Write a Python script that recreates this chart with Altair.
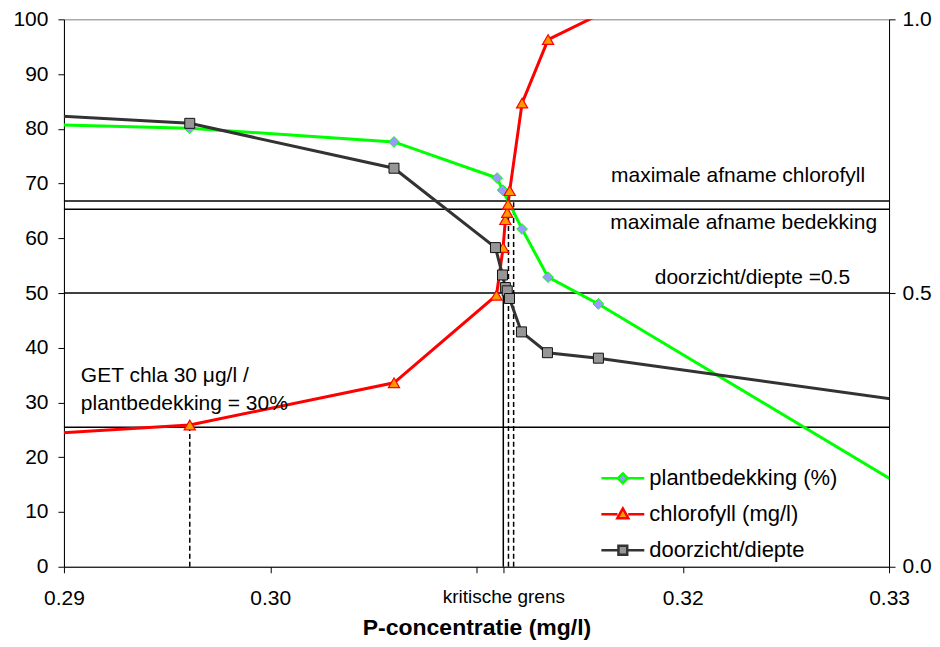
import altair as alt
import pandas as pd

FONT = "Liberation Sans"

# ---------------- data ----------------
series_names = ["plantbedekking (%)", "chlorofyll (mg/l)", "doorzicht/diepte"]
line_colors = ["#00FF00", "#FF0000", "#333333"]
marker_fills = ["#9999FF", "#FF9900", "#969696"]

# plantbedekking (%), left axis
p_plant = [0.2800, 0.2961, 0.3060, 0.31100, 0.31127, 0.31221, 0.31347, 0.31591, 0.3350]
plant = [81.7, 80.1, 77.6, 71.0, 68.8, 61.7, 52.9, 48.0, 4.9]

# chlorofyll (mg/l), left axis
p_chl = [0.2800, 0.2961, 0.3060, 0.31097, 0.31129, 0.31140, 0.31149, 0.31153, 0.31161, 0.31221, 0.31347, 0.31591]
chl = [22.2, 25.9, 33.6, 49.6, 58.3, 63.4, 64.7, 66.2, 68.7, 84.7, 96.3, 100.8]

# doorzicht/diepte, right axis
p_door = [0.2800, 0.2961, 0.3060, 0.31092, 0.31126, 0.31140, 0.31149, 0.31160, 0.31218, 0.31344, 0.31591, 0.3350]
door = [0.844, 0.810, 0.728, 0.583, 0.533, 0.510, 0.504, 0.490, 0.429, 0.391, 0.381, 0.281]

# reference lines
hline_values = [25.5, 50.0, 65.3, 66.8]
krit_x = [0.3113]
krit_top = [50.0]
vdash_x = [0.2961, 0.31155, 0.31180]
vdash_top = [25.5, 65.3, 66.8]

# axis ticks
x_ticks = [0.29, 0.30, 0.31, 0.3113, 0.32, 0.33]
y_ticks = [0, 10, 20, 30, 40, 50, 60, 70, 80, 90, 100]
y2_ticks = [0.0, 0.5, 1.0]

# annotations
notes = ["maximale afname chlorofyll", "maximale afname bedekking", "doorzicht/diepte =0.5"]
note_x = [0.32884, 0.32942, 0.32811]
note_y = [71.4, 62.8, 52.8]
get_text = ["GET chla 30 \u03bcg/l /", "plantbedekking = 30%"]
get_x = [0.29082, 0.29082]
get_y = [34.9, 29.7]

# ---------------- frames ----------------
df_plant = pd.DataFrame({"x": p_plant, "v": plant})
df_chl = pd.DataFrame({"x": p_chl, "v": chl})
df_door = pd.DataFrame({"x": p_door, "d": door})
df_h = pd.DataFrame({"v": hline_values})
df_krit = pd.DataFrame({"x": krit_x, "v0": [0.0] * len(krit_x), "v": krit_top})
df_dash = pd.DataFrame({"x": vdash_x, "v0": [0.0] * len(vdash_x), "v": vdash_top})
df_notes = pd.DataFrame({"x": note_x, "v": note_y, "t": notes})
df_get = pd.DataFrame({"x": get_x, "v": get_y, "t": get_text})
df_leg = pd.DataFrame({"series": series_names})

# ---------------- scales / axes ----------------
XS = alt.Scale(domain=[0.29, 0.33], nice=False, zero=False)
YL = alt.Scale(domain=[0, 100], nice=False, zero=True)
YR = alt.Scale(domain=[0, 1], nice=False, zero=True)

x_axis = alt.Axis(
    values=x_ticks,
    labelExpr="datum.value > 0.3099 && datum.value < 0.3101 ? '' : "
              "(datum.value > 0.3112 && datum.value < 0.3114 ? 'kritische grens' : format(datum.value, '.2f'))",
    labelFontSize={"condition": {"test": "datum.value > 0.3112 && datum.value < 0.3114", "value": 19}, "value": 21},
    labelOverlap=False,
    labelFlush=False,
    tickSize=6,
    labelPadding=15,
    title="P-concentratie (mg/l)",
    titleFontSize=23,
    titleFontWeight="bold",
    titlePadding=8,
    grid=False,
)
yl_axis = alt.Axis(values=y_ticks, tickSize=6, labelPadding=10, labelFontSize=21, title=None, grid=False)
yr_axis = alt.Axis(values=y2_ticks, format=".1f", orient="right", tickSize=6, labelPadding=7,
                   labelFontSize=21, title=None, grid=False)


def X(f="x"):
    return alt.X(f"{f}:Q", scale=XS, axis=x_axis)


def YLenc(f="v"):
    return alt.Y(f"{f}:Q", scale=YL, axis=yl_axis)


in_view = "datum.x >= 0.29 && datum.x <= 0.33 && datum.v <= 100"

hrules = alt.Chart(df_h).mark_rule(color="black", strokeWidth=1.5).encode(y=YLenc())
krit = alt.Chart(df_krit).mark_rule(color="black", strokeWidth=1.5).encode(
    x=X(), y=YLenc("v0"), y2="v:Q")
dashes = alt.Chart(df_dash).mark_rule(color="black", strokeWidth=1.5, strokeDash=[5, 3]).encode(
    x=X(), y=YLenc("v0"), y2="v:Q")

plant_line = alt.Chart(df_plant).mark_line(color=line_colors[0], strokeWidth=3, clip=True).encode(
    x=X(), y=YLenc())
chl_line = alt.Chart(df_chl).mark_line(color=line_colors[1], strokeWidth=3, clip=True).encode(
    x=X(), y=YLenc())
plant_pts = alt.Chart(df_plant).transform_filter(in_view).mark_point(
    shape="diamond", filled=True, fill=marker_fills[0], stroke=line_colors[0], strokeWidth=1,
    size=115, opacity=1).encode(x=X(), y=YLenc())
chl_pts = alt.Chart(df_chl).transform_filter(in_view).mark_point(
    shape="triangle-up", filled=True, fill=marker_fills[1], stroke=line_colors[1], strokeWidth=1.2,
    size=125, opacity=1).encode(x=X(), y=YLenc())

notes_layer = alt.Chart(df_notes).mark_text(align="right", baseline="middle", fontSize=21, font=FONT,
                                            color="black").encode(x=X(), y=YLenc(), text="t:N")
get_layer = alt.Chart(df_get).mark_text(align="left", baseline="middle", fontSize=21, font=FONT,
                                        color="black").encode(x=X(), y=YLenc(), text="t:N")

legend_paths = [
    "M-2.2,0H-0.5M0.5,0H2.2M0,-0.5L0.5,0L0,0.5L-0.5,0Z",
    "M-2.2,0H-0.55M0.55,0H2.2M0,-0.6L0.56,0.4L-0.56,0.4Z",
    "M-2.2,0H-0.45M0.45,0H2.2M-0.45,-0.45H0.45V0.45H-0.45Z",
]
leg = alt.Legend(
    title=None, orient="none", legendX=548, legendY=448,
    labelFontSize=22, labelFont=FONT, labelColor="black", labelLimit=400,
    symbolSize=382, symbolStrokeWidth=2.5, labelOffset=15, rowPadding=13, padding=0,
)
legend_layer = alt.Chart(df_leg).transform_filter("false").mark_point(opacity=1).encode(
    stroke=alt.Stroke("series:N", scale=alt.Scale(domain=series_names, range=line_colors), legend=leg),
    fill=alt.Fill("series:N", scale=alt.Scale(domain=series_names, range=marker_fills), legend=leg),
    shape=alt.Shape("series:N", scale=alt.Scale(domain=series_names, range=legend_paths), legend=leg),
)

left = alt.layer(hrules, krit, dashes, plant_line, chl_line, plant_pts, chl_pts,
                 notes_layer, get_layer, legend_layer)

door_line = alt.Chart(df_door).mark_line(color=line_colors[2], strokeWidth=3, clip=True).encode(
    x=X(), y=alt.Y("d:Q", scale=YR, axis=yr_axis))
door_pts = alt.Chart(df_door).transform_filter("datum.x >= 0.29 && datum.x <= 0.33").mark_point(
    shape="square", filled=True, fill=marker_fills[2], stroke="#111111", strokeWidth=1,
    size=100, opacity=1).encode(x=X(), y=alt.Y("d:Q", scale=YR, axis=yr_axis))
right = alt.layer(door_line, door_pts)

chart = alt.layer(left, right).resolve_scale(y="independent").properties(
    width=826, height=548,
    padding={"left": 4, "top": 0, "right": 0, "bottom": 0},
    background="white",
).configure_view(stroke="#808080", strokeWidth=1).configure_axis(
    labelFont=FONT, titleFont=FONT, labelColor="black", titleColor="black",
    domainColor="black", tickColor="black", domainWidth=1, tickWidth=1,
).configure_text(font=FONT)

chart.save("out.html", embed_options={"renderer": "svg", "actions": False})
